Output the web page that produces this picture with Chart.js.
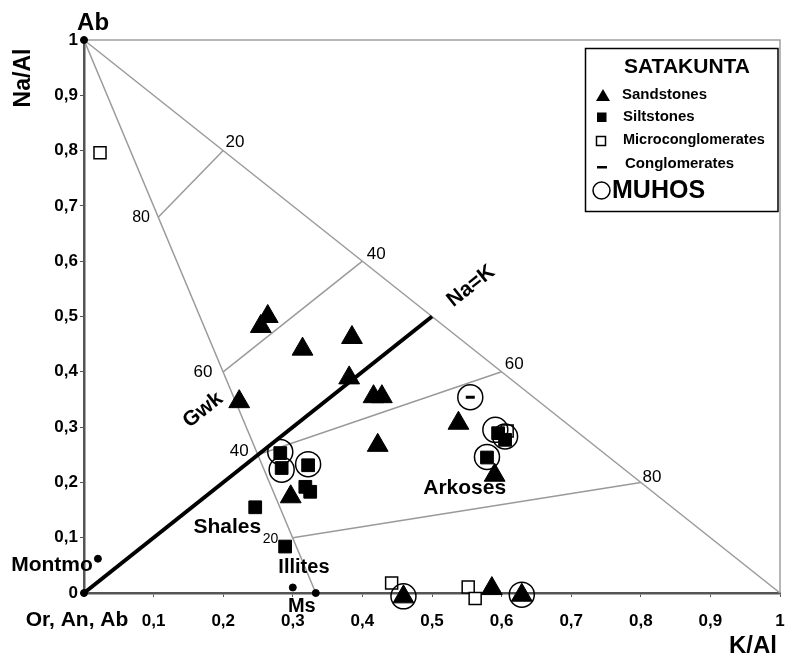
<!DOCTYPE html>
<html>
<head>
<meta charset="utf-8">
<title>Na/Al vs K/Al</title>
<script src="https://cdn.jsdelivr.net/npm/chart.js@4.4.1/dist/chart.umd.min.js"></script>
<style>
    html, body { margin: 0; padding: 0; background: #fff; }
    #wrap { width: 787px; height: 658px; }
</style>
</head>
<body>
<div id="wrap"><canvas id="chart" width="787" height="658"></canvas></div>
<script>
// Data (K/Al, Na/Al)
const sandstones = [
    [0.264, 0.500], [0.254, 0.482], [0.314, 0.441], [0.385, 0.462], [0.381, 0.389],
    [0.223, 0.346], [0.416, 0.355], [0.428, 0.355], [0.422, 0.267], [0.538, 0.307],
    [0.590, 0.213], [0.297, 0.174], [0.459, -0.007], [0.586, 0.008], [0.629, -0.004]
];
const siltstones = [
    [0.282, 0.253], [0.284, 0.226], [0.322, 0.231], [0.318, 0.192], [0.325, 0.183],
    [0.246, 0.155], [0.289, 0.084], [0.595, 0.289], [0.605, 0.277], [0.579, 0.245]
];
const microconglomerates = [
    [0.023, 0.796], [0.442, 0.018], [0.552, 0.011], [0.562, -0.010], [0.608, 0.293]
];
const conglomerates = [[0.555, 0.354]];
const muhos = [
    [0.282, 0.255], [0.284, 0.223], [0.322, 0.233], [0.555, 0.354], [0.591, 0.295],
    [0.605, 0.283], [0.579, 0.246], [0.459, -0.006], [0.629, -0.003]
];
// reference minerals (Ab, Or/An, Ms, illite, montmorillonite)
const endMembers = [[0, 1], [0, 0], [0.333, 0], [0.300, 0.010], [0.020, 0.062]];

// diagram lines
const frameLine = [[0, 1], [1, 1], [1, 0]];
const abKLine = [[0, 1], [1, 0]];
const abMsLine = [[0, 1], [0.333, 0]];
const tieLines = [
    [[0.2, 0.8], [0.107, 0.68]],
    [[0.4, 0.6], [0.2, 0.4]],
    [[0.6, 0.4], [0.25, 0.25]],
    [[0.8, 0.2], [0.3, 0.1]]
];
const naKLine = [[0, 0], [0.5, 0.5]];

const tickValues = [0, 0.1, 0.2, 0.3, 0.4, 0.5, 0.6, 0.7, 0.8, 0.9, 1];
const legendTitle = 'SATAKUNTA';
const legendNames = ['Sandstones', 'Siltstones', 'Microconglomerates', 'Conglomerates'];
const muhosName = 'MUHOS';

const pts = arr => arr.map(p => ({ x: p[0], y: p[1] }));
const fmt = v => {
    const r = Math.round(v * 10) / 10;
    if (r === 0) return '0';
    if (r === 1) return '1';
    return r.toFixed(1).replace('.', ',');
};

function lineSet(arr, color, width, order) {
    return {
        data: pts(arr),
        showLine: true,
        borderColor: color,
        borderWidth: width,
        pointRadius: 0,
        fill: false,
        clip: false,
        order: order
    };
}

function markSet(arr, style, radius, fillColor, borderWidth, order) {
    return {
        data: pts(arr),
        pointStyle: style,
        pointRadius: radius,
        pointBackgroundColor: fillColor,
        pointBorderColor: '#000',
        pointBorderWidth: borderWidth,
        clip: false,
        order: order
    };
}

const datasets = [
    markSet(muhos, 'circle', 12.5, 'rgba(0,0,0,0)', 1.5, 0),
    markSet(conglomerates, 'line', 4.5, '#000', 3, 1),
    markSet(sandstones, 'triangle', 12, '#000', 1, 2),
    markSet(siltstones, 'rect', 9, '#000', 1, 3),
    markSet(microconglomerates, 'rect', 8.5, '#fff', 1.5, 4),
    markSet(endMembers, 'circle', 3.5, '#000', 1, 5),
    lineSet(naKLine, '#000', 4, 6),
    lineSet(abKLine, '#9a9a9a', 1.5, 8),
    lineSet(abMsLine, '#9a9a9a', 1.5, 8),
    lineSet(frameLine, '#a0a0a0', 1.5, 9)
];
tieLines.forEach(seg => datasets.push(lineSet(seg, '#9a9a9a', 1.5, 8)));

// text placed in data coordinates
const notes = [
    { text: 'Ab', x: 0.013, y: 1.030, font: 'bold 24px "Liberation Sans"' },
    { text: '20', x: 0.217, y: 0.815, font: '17px "Liberation Sans"' },
    { text: '80', x: 0.082, y: 0.679, font: '16px "Liberation Sans"' },
    { text: '40', x: 0.420, y: 0.613, font: '17px "Liberation Sans"' },
    { text: '60', x: 0.171, y: 0.399, font: '17px "Liberation Sans"' },
    { text: '60', x: 0.618, y: 0.413, font: '17px "Liberation Sans"' },
    { text: '40', x: 0.223, y: 0.257, font: '17px "Liberation Sans"' },
    { text: '80', x: 0.816, y: 0.210, font: '17px "Liberation Sans"' },
    { text: '20', x: 0.268, y: 0.098, font: '14px "Liberation Sans"' },
    { text: 'Shales', x: 0.206, y: 0.119, font: 'bold 21px "Liberation Sans"' },
    { text: 'Illites', x: 0.316, y: 0.047, font: 'bold 20px "Liberation Sans"' },
    { text: 'Ms', x: 0.313, y: -0.025, font: 'bold 20px "Liberation Sans"' },
    { text: 'Montmo', x: -0.046, y: 0.051, font: 'bold 21px "Liberation Sans"' },
    { text: 'Arkoses', x: 0.547, y: 0.190, font: 'bold 21px "Liberation Sans"' },
    { text: 'Gwk', x: 0.171, y: 0.331, font: 'bold 21px "Liberation Sans"', rot: -38.5 },
    { text: 'Na=K', x: 0.556, y: 0.555, font: 'bold 21px "Liberation Sans"', rot: -38.5 }
];

const decor = {
    id: 'decor',
    afterDatasetsDraw(chart) {
        const ctx = chart.ctx;
        const xs = chart.scales.x, ys = chart.scales.y;
        ctx.save();
        ctx.fillStyle = '#000';
        ctx.textAlign = 'center';
        ctx.textBaseline = 'middle';

        notes.forEach(n => {
            ctx.save();
            ctx.translate(xs.getPixelForValue(n.x), ys.getPixelForValue(n.y));
            if (n.rot) ctx.rotate(n.rot * Math.PI / 180);
            ctx.font = n.font;
            ctx.fillText(n.text, 0, 0);
            ctx.restore();
        });

        // axis titles
        ctx.font = 'bold 21px "Liberation Sans"';
        ctx.fillText('Or, An, Ab', 77, 620);
        ctx.font = 'bold 24px "Liberation Sans"';
        ctx.fillText('K/Al', 753, 646);
        ctx.save();
        ctx.translate(24, 78);
        ctx.rotate(-Math.PI / 2);
        ctx.font = 'bold 23px "Liberation Sans"';
        ctx.fillText('Na/Al', 0, 0);
        ctx.restore();

        // legend box
        ctx.fillStyle = '#fff';
        ctx.fillRect(585, 48, 193, 164);
        ctx.strokeStyle = '#000';
        ctx.lineWidth = 1.5;
        ctx.strokeRect(585.5, 48.5, 192.5, 163);
        ctx.fillStyle = '#000';

        ctx.font = 'bold 21px "Liberation Sans"';
        ctx.fillText(legendTitle, 687, 67);

        // markers
        ctx.beginPath();
        ctx.moveTo(603, 89);
        ctx.lineTo(610, 101);
        ctx.lineTo(596, 101);
        ctx.closePath();
        ctx.fill();
        ctx.fillRect(597, 112.5, 9.5, 9.5);
        ctx.lineWidth = 1.5;
        ctx.strokeRect(596.5, 136.5, 9, 9);
        ctx.fillRect(597, 166, 10, 2.5);
        ctx.beginPath();
        ctx.arc(601.5, 190.5, 8.5, 0, Math.PI * 2);
        ctx.stroke();

        ctx.textAlign = 'left';
        ctx.font = 'bold 15px "Liberation Sans"';
        ctx.fillText(legendNames[0], 622, 95);
        ctx.fillText(legendNames[1], 623, 117);
        ctx.font = 'bold 14.5px "Liberation Sans"';
        ctx.fillText(legendNames[2], 623, 140);
        ctx.font = 'bold 15px "Liberation Sans"';
        ctx.fillText(legendNames[3], 625, 164);
        ctx.font = 'bold 25px "Liberation Sans"';
        ctx.fillText(muhosName, 612, 191);

        ctx.restore();
    }
};

const axisColor = '#555';

new Chart(document.getElementById('chart'), {
    type: 'scatter',
    data: { datasets: datasets },
    options: {
        responsive: false,
        animation: false,
        devicePixelRatio: 1,
        events: [],
        layout: { autoPadding: false, padding: { top: 40, right: 7, left: 0, bottom: 0 } },
        plugins: {
            legend: { display: false },
            tooltip: { enabled: false }
        },
        scales: {
            x: {
                type: 'linear',
                min: 0,
                max: 1,
                afterFit(scale) {
                    scale.height = 65;
                    scale.paddingLeft = 0;
                    scale.paddingRight = 0;
                },
                afterBuildTicks(scale) { scale.ticks = tickValues.map(v => ({ value: v })); },
                border: { color: axisColor, width: 2.5 },
                grid: { drawOnChartArea: false, drawTicks: true, tickLength: 4, color: axisColor },
                ticks: {
                    autoSkip: false,
                    maxRotation: 0,
                    padding: 14,
                    color: '#000',
                    font: { family: '"Liberation Sans"', size: 17, weight: 'bold' },
                    callback: v => (v === 0 ? '' : fmt(v))
                }
            },
            y: {
                type: 'linear',
                min: 0,
                max: 1,
                afterFit(scale) {
                    scale.width = 84;
                    scale.paddingTop = 0;
                    scale.paddingBottom = 0;
                },
                afterBuildTicks(scale) { scale.ticks = tickValues.map(v => ({ value: v })); },
                border: { color: axisColor, width: 2.5 },
                grid: { drawOnChartArea: false, drawTicks: true, tickLength: 4, color: axisColor },
                ticks: {
                    autoSkip: false,
                    padding: 2,
                    color: '#000',
                    font: { family: '"Liberation Sans"', size: 17, weight: 'bold' },
                    callback: v => fmt(v)
                }
            }
        }
    },
    plugins: [decor]
});
</script>
</body>
</html>
